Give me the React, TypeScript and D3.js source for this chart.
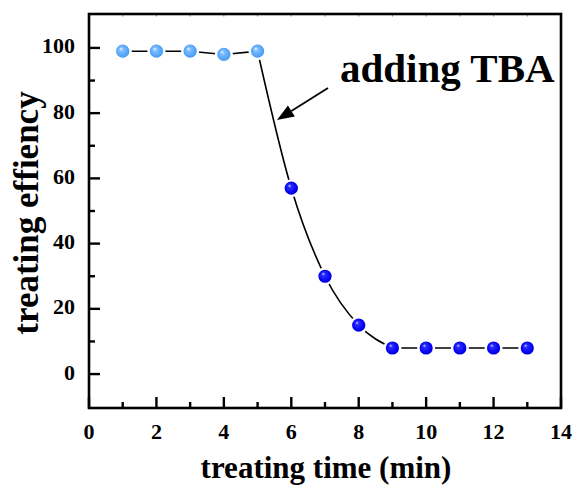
import React from "react";
import * as d3 from "d3";

// Treating efficiency over time; TBA added after minute 5
const timesBefore = [1, 2, 3, 4, 5];
const effBefore = [99, 99, 99, 98, 99];
const timesAfter = [6, 7, 8, 9, 10, 11, 12, 13];
const effAfter = [57, 30, 15, 8, 8, 8, 8, 8];

const xMajorTicks = [0, 2, 4, 6, 8, 10, 12, 14];
const xMinorTicks = [1, 3, 5, 7, 9, 11, 13];
const yMajorTicks = [0, 20, 40, 60, 80, 100];
const yMinorTicks = [-10, 10, 30, 50, 70, 90, 110];

const W = 575;
const H = 488;
const left = 89;
const right = 561;
const top = 14;
const bottom = 408;

const FONT = "'Liberation Serif', 'Times New Roman', serif";

type P = [number, number];

export default function App() {
  const x = d3.scaleLinear().domain([0, 14]).range([left, right]);
  const y = d3.scaleLinear().domain([-10.4, 110.4]).range([bottom, top]);

  const allT = [...timesBefore, ...timesAfter];
  const allE = [...effBefore, ...effAfter];
  const pts: P[] = allT.map((t, i) => [t, allE[i]]);

  // plateau segments straight, the drop after TBA drawn smooth
  const dropStart = timesBefore.length - 1;
  const dropEnd = allE.findIndex((v, i) => i > dropStart && v === effAfter[effAfter.length - 1]);
  const straight = d3
    .line<P>()
    .x((d) => x(d[0]))
    .y((d) => y(d[1]));
  const smooth = d3
    .line<P>()
    .x((d) => x(d[0]))
    .y((d) => y(d[1]))
    .curve(d3.curveMonotoneX);
  const segments = [
    straight(pts.slice(0, dropStart + 1)) || "",
    smooth(pts.slice(dropStart, dropEnd + 1)) || "",
    straight(pts.slice(dropEnd)) || "",
  ];

  const markers = [
    ...timesBefore.map((t, i) => ({ t, v: effBefore[i], fill: "url(#ballLight)" })),
    ...timesAfter.map((t, i) => ({ t, v: effAfter[i], fill: "url(#ballDark)" })),
  ];

  // annotation arrow pointing at the falling segment
  const arrowTail: P = [328, 88];
  const arrowTip: P = [277, 120];
  const ang = Math.atan2(arrowTip[1] - arrowTail[1], arrowTip[0] - arrowTail[0]);
  const headLen = 17;
  const headHalf = 6.5;
  const bx = arrowTip[0] - headLen * Math.cos(ang);
  const by = arrowTip[1] - headLen * Math.sin(ang);
  const px = -Math.sin(ang);
  const py = Math.cos(ang);
  const head = `M${arrowTip[0]},${arrowTip[1]} L${bx + headHalf * px},${by + headHalf * py} L${bx - headHalf * px},${by - headHalf * py} Z`;

  return (
    <svg
      width={W}
      height={H}
      style={{ position: "absolute", left: 0, top: 0, background: "#fff" }}
      fontFamily={FONT}
    >
      <defs>
        <radialGradient id="ballLight" cx="0.5" cy="0.5" r="0.55" fx="0.35" fy="0.3">
          <stop offset="0" stopColor="#e8f4ff" />
          <stop offset="0.3" stopColor="#7dbcff" />
          <stop offset="0.8" stopColor="#4fa3f8" />
          <stop offset="1" stopColor="#3d8fe6" />
        </radialGradient>
        <radialGradient id="ballDark" cx="0.5" cy="0.5" r="0.55" fx="0.35" fy="0.3">
          <stop offset="0" stopColor="#c8c8ff" />
          <stop offset="0.25" stopColor="#2a2aff" />
          <stop offset="0.8" stopColor="#0000f0" />
          <stop offset="1" stopColor="#0000c8" />
        </radialGradient>
      </defs>
      <rect width={W} height={H} fill="#fff" />

      {/* data line */}
      {segments.map((d, i) => (
        <path key={"seg" + i} d={d} fill="none" stroke="#000" strokeWidth={1.6} />
      ))}

      {/* markers with a small white gap around them */}
      {markers.map((m, i) => (
        <g key={i}>
          <circle cx={x(m.t)} cy={y(m.v)} r={9} fill="#fff" />
          <circle cx={x(m.t)} cy={y(m.v)} r={6.6} fill={m.fill} />
        </g>
      ))}

      {/* frame */}
      <rect
        x={left}
        y={top}
        width={right - left}
        height={bottom - top}
        fill="none"
        stroke="#000"
        strokeWidth={2.6}
      />

      {/* bottom axis ticks */}
      {xMajorTicks.map((t) => (
        <line key={"xM" + t} x1={x(t)} x2={x(t)} y1={bottom} y2={bottom - 11} stroke="#000" strokeWidth={2.4} />
      ))}
      {xMinorTicks.map((t) => (
        <line key={"xm" + t} x1={x(t)} x2={x(t)} y1={bottom} y2={bottom - 6} stroke="#000" strokeWidth={2.4} />
      ))}
      {/* faint top ticks */}
      {[...xMajorTicks, ...xMinorTicks].map((t) => (
        <line key={"xt" + t} x1={x(t)} x2={x(t)} y1={top} y2={top + 2.5} stroke="#000" strokeWidth={1} opacity={0.5} />
      ))}

      {/* left axis ticks */}
      {yMajorTicks.map((t) => (
        <line key={"yM" + t} x1={left} x2={left + 11} y1={y(t)} y2={y(t)} stroke="#000" strokeWidth={2.4} />
      ))}
      {yMinorTicks
        .filter((t) => y(t) > top + 2 && y(t) < bottom - 2)
        .map((t) => (
          <line key={"ym" + t} x1={left} x2={left + 6} y1={y(t)} y2={y(t)} stroke="#000" strokeWidth={2.4} />
        ))}

      {/* tick labels */}
      {xMajorTicks.map((t) => (
        <text key={"xl" + t} x={x(t)} y={439} textAnchor="middle" fontSize={22} fontWeight="bold">
          {t}
        </text>
      ))}
      {yMajorTicks.map((t) => (
        <text key={"yl" + t} x={75} y={y(t) + 5.5} textAnchor="end" fontSize={22} fontWeight="bold">
          {t}
        </text>
      ))}

      {/* axis titles */}
      <text x={326} y={478} textAnchor="middle" fontSize={31} fontWeight="bold">
        treating time (min)
      </text>
      <text
        transform={`translate(38,${213}) rotate(-90)`}
        textAnchor="middle"
        fontSize={35}
        fontWeight="bold"
      >
        treating effiency
      </text>

      {/* annotation */}
      <text x={340} y={82} fontSize={41} fontWeight="bold">
        adding TBA
      </text>
      <line x1={arrowTail[0]} y1={arrowTail[1]} x2={bx} y2={by} stroke="#000" strokeWidth={1.8} />
      <path d={head} fill="#000" />
    </svg>
  );
}
